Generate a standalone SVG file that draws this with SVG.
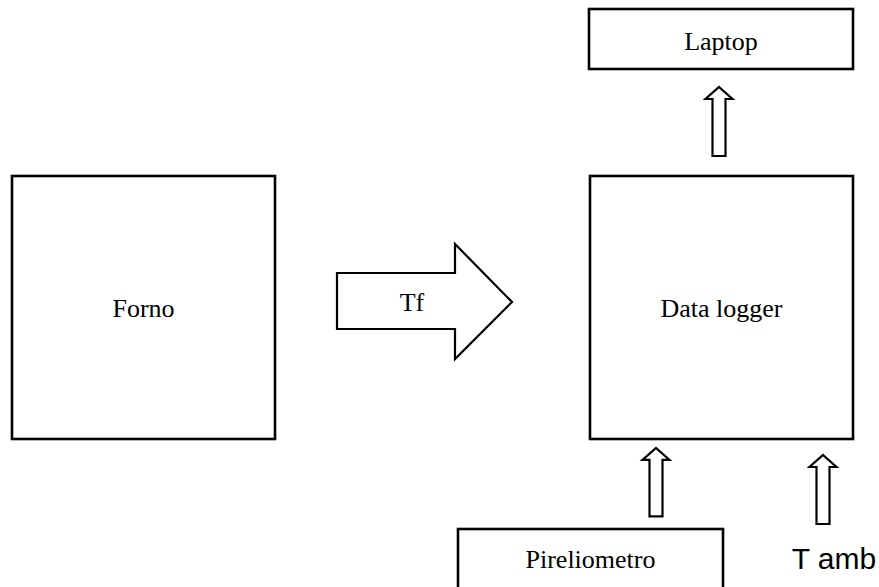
<svg xmlns="http://www.w3.org/2000/svg" width="879" height="587" viewBox="0 0 879 587">
  <style>
    .box { fill: #ffffff; stroke: #000000; stroke-width: 2.6; }
    .arrow { fill: #ffffff; stroke: #000000; stroke-width: 2.2; stroke-linejoin: miter; }
    .label { font-family: "Liberation Serif", "Times New Roman", serif; font-size: 26px; fill: #000000; text-anchor: middle; }
    .sans { font-family: "Liberation Sans", Arial, sans-serif; font-size: 30px; fill: #000000; text-anchor: middle; }
  </style>
  <defs>
    <!-- thin block arrow pointing up, tip at origin -->
    <path id="up-arrow" class="arrow" d="M0,0 L13.5,12 L6.5,12 L6.5,69 L-6.5,69 L-6.5,12 L-13.5,12 Z"/>
  </defs>
  <rect width="879" height="587" fill="#ffffff"/>

  <g id="forno">
    <rect class="box" x="12" y="176" width="263" height="263"/>
    <text class="label" x="143.5" y="317">Forno</text>
  </g>

  <g id="data-logger">
    <rect class="box" x="590" y="176" width="263" height="263"/>
    <text class="label" x="721.5" y="317">Data logger</text>
  </g>

  <g id="laptop">
    <rect class="box" x="589" y="9" width="264" height="60"/>
    <text class="label" x="721" y="50">Laptop</text>
  </g>

  <g id="pireliometro">
    <rect class="box" x="458" y="529" width="265" height="70"/>
    <text class="label" x="590.5" y="568">Pireliometro</text>
  </g>

  <g id="t-amb">
    <text class="sans" x="834" y="569">T amb</text>
  </g>

  <g id="connectors">
    <!-- Tf block arrow from Forno to Data logger -->
    <path class="arrow" stroke-width="2.6" d="M337,273 L455,273 L455,244 L512,302 L455,359 L455,329 L337,329 Z"/>
    <text class="label" x="412" y="311">Tf</text>
    <!-- Data logger to Laptop -->
    <use href="#up-arrow" x="719" y="87"/>
    <!-- Pireliometro to Data logger -->
    <use href="#up-arrow" transform="translate(656,448) scale(1,0.99)"/>
    <!-- T amb to Data logger -->
    <use href="#up-arrow" x="823" y="455"/>
  </g>
</svg>
